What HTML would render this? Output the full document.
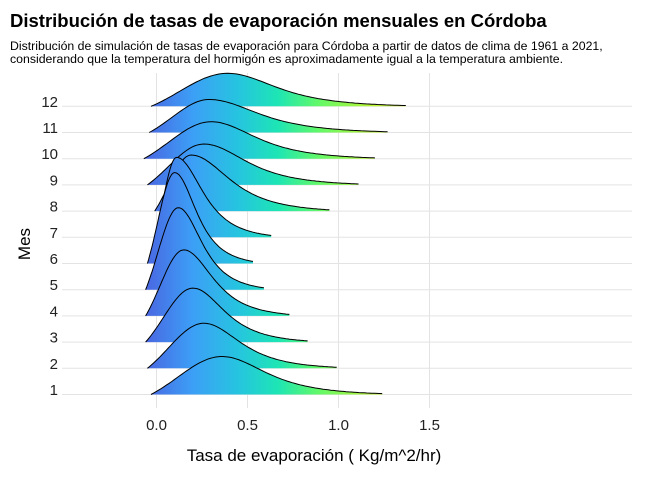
<!DOCTYPE html>
<html><head><meta charset="utf-8"><style>
body{margin:0;background:#fff;}
svg text{font-family:"Liberation Sans",sans-serif;}
</style></head><body>
<svg id="chart" width="650" height="475" xmlns="http://www.w3.org/2000/svg">
<defs>
<linearGradient id="grad" gradientUnits="userSpaceOnUse" x1="145" y1="0" x2="410" y2="0">
<stop offset="0" stop-color="#4a66e2"/>
<stop offset="0.18" stop-color="#3c9ff6"/>
<stop offset="0.35" stop-color="#26c4e0"/>
<stop offset="0.5" stop-color="#1de5b5"/>
<stop offset="0.65" stop-color="#60f86a"/>
<stop offset="0.85" stop-color="#b5f535"/>
<stop offset="1" stop-color="#d4f428"/>
</linearGradient>
</defs>
<rect width="650" height="475" fill="#fff"/>
<text x="10" y="27" font-size="18.5" font-weight="bold" fill="#000">Distribución de tasas de evaporación mensuales en Córdoba</text>
<text x="10" y="50" font-size="12.3" fill="#000">Distribución de simulación de tasas de evaporación para Córdoba a partir de datos de clima de 1961 a 2021,</text>
<text x="10" y="63" font-size="12.3" fill="#000">considerando que la temperatura del hormigón es aproximadamente igual a la temperatura ambiente.</text>
<g id="grid"></g>
<g id="ridges"></g>
<g id="axes"></g>
<text x="314" y="461" font-size="17" text-anchor="middle" fill="#000">Tasa de evaporación ( Kg/m^2/hr)</text>
<text transform="translate(30,244) rotate(-90)" font-size="17" text-anchor="middle" fill="#000">Mes</text>
</svg>
<script>
const months=[1,2,3,4,5,6,7,8,9,10,11,12];
const mins=[-0.03,-0.05,-0.06,-0.06,-0.06,-0.05,-0.01,-0.01,-0.05,-0.07,-0.04,-0.03];
const modes=[0.36,0.26,0.20,0.15,0.12,0.10,0.11,0.19,0.26,0.30,0.29,0.39];
const maxs=[1.24,0.99,0.83,0.73,0.59,0.53,0.63,0.95,1.11,1.20,1.27,1.37];
const peaks=[1.45,1.72,2.06,2.52,3.13,3.47,3.05,2.14,1.56,1.41,1.26,1.26];
const xTicks=[0,0.5,1,1.5];
const xTickLabels=["0.0","0.5","1.0","1.5"];
const NS="http://www.w3.org/2000/svg";
const X=v=>156.5+v*182;
const rowH=26.2;
const Y=m=>394.5-(m-1)*rowH;
const grid=document.getElementById('grid'),ridges=document.getElementById('ridges'),axes=document.getElementById('axes');
function mk(tag,attrs,parent){const e=document.createElementNS(NS,tag);for(const k in attrs)e.setAttribute(k,attrs[k]);parent.appendChild(e);return e;}
xTicks.forEach((t,i)=>{
  const l=mk('line',{x1:X(t),x2:X(t),y1:73,y2:408,stroke:'#e3e3e3','stroke-width':1},grid);
  
  
  const tx=mk('text',{x:X(t),y:430,'font-size':15,'text-anchor':'middle',fill:'#222'},axes);
  tx.textContent=xTickLabels[i];
  
  
});
months.forEach(m=>{
  const l=mk('line',{x1:62,x2:632,y1:Y(m),y2:Y(m),stroke:'#e3e3e3','stroke-width':1},grid);
  
  
  const tx=mk('text',{x:58,y:Y(m)+0.5,'font-size':15,'text-anchor':'end',fill:'#222'},axes);
  tx.textContent=String(m);
  
  
});
for(let i=months.length-1;i>=0;i--){
  const m=months[i],a=mins[i],md=modes[i],b=maxs[i],h=peaks[i]*rowH;
  const sL=(md-a)/1.6,sR=(b-md)/3.2;
  const eL=Math.exp(-0.5*1.6*1.6);
  const uE=3.2;const eR=Math.pow(1+uE*uE/2,-1.6);
  const pts=[];const N=90;
  for(let k=0;k<=N;k++){
    const v=a+(b-a)*k/N;
    let d;
    if(v<=md){d=Math.exp(-0.5*Math.pow((v-md)/sL,2));d=(d-eL)/(1-eL);}
    else{const u=(v-md)/sR;d=Math.pow(1+u*u/2,-1.6);d=(d-eR*0.6)/(1-eR*0.6);}
    pts.push([X(v),Y(m)-h*Math.max(d,0)]);
  }
  let dFill='M'+X(a)+','+Y(m)+' '+pts.map(p=>'L'+p[0].toFixed(1)+','+p[1].toFixed(1)).join(' ')+' L'+X(b)+','+Y(m)+' Z';
  const f=mk('path',{d:dFill,fill:'url(#grad)',stroke:'none'},ridges);
  
  
  const dl='M'+pts.map(p=>p[0].toFixed(1)+','+p[1].toFixed(1)).join(' L');
  const ln=mk('path',{d:dl,fill:'none',stroke:'#000','stroke-width':1},ridges);
  
  
}
</script>
</body></html>
